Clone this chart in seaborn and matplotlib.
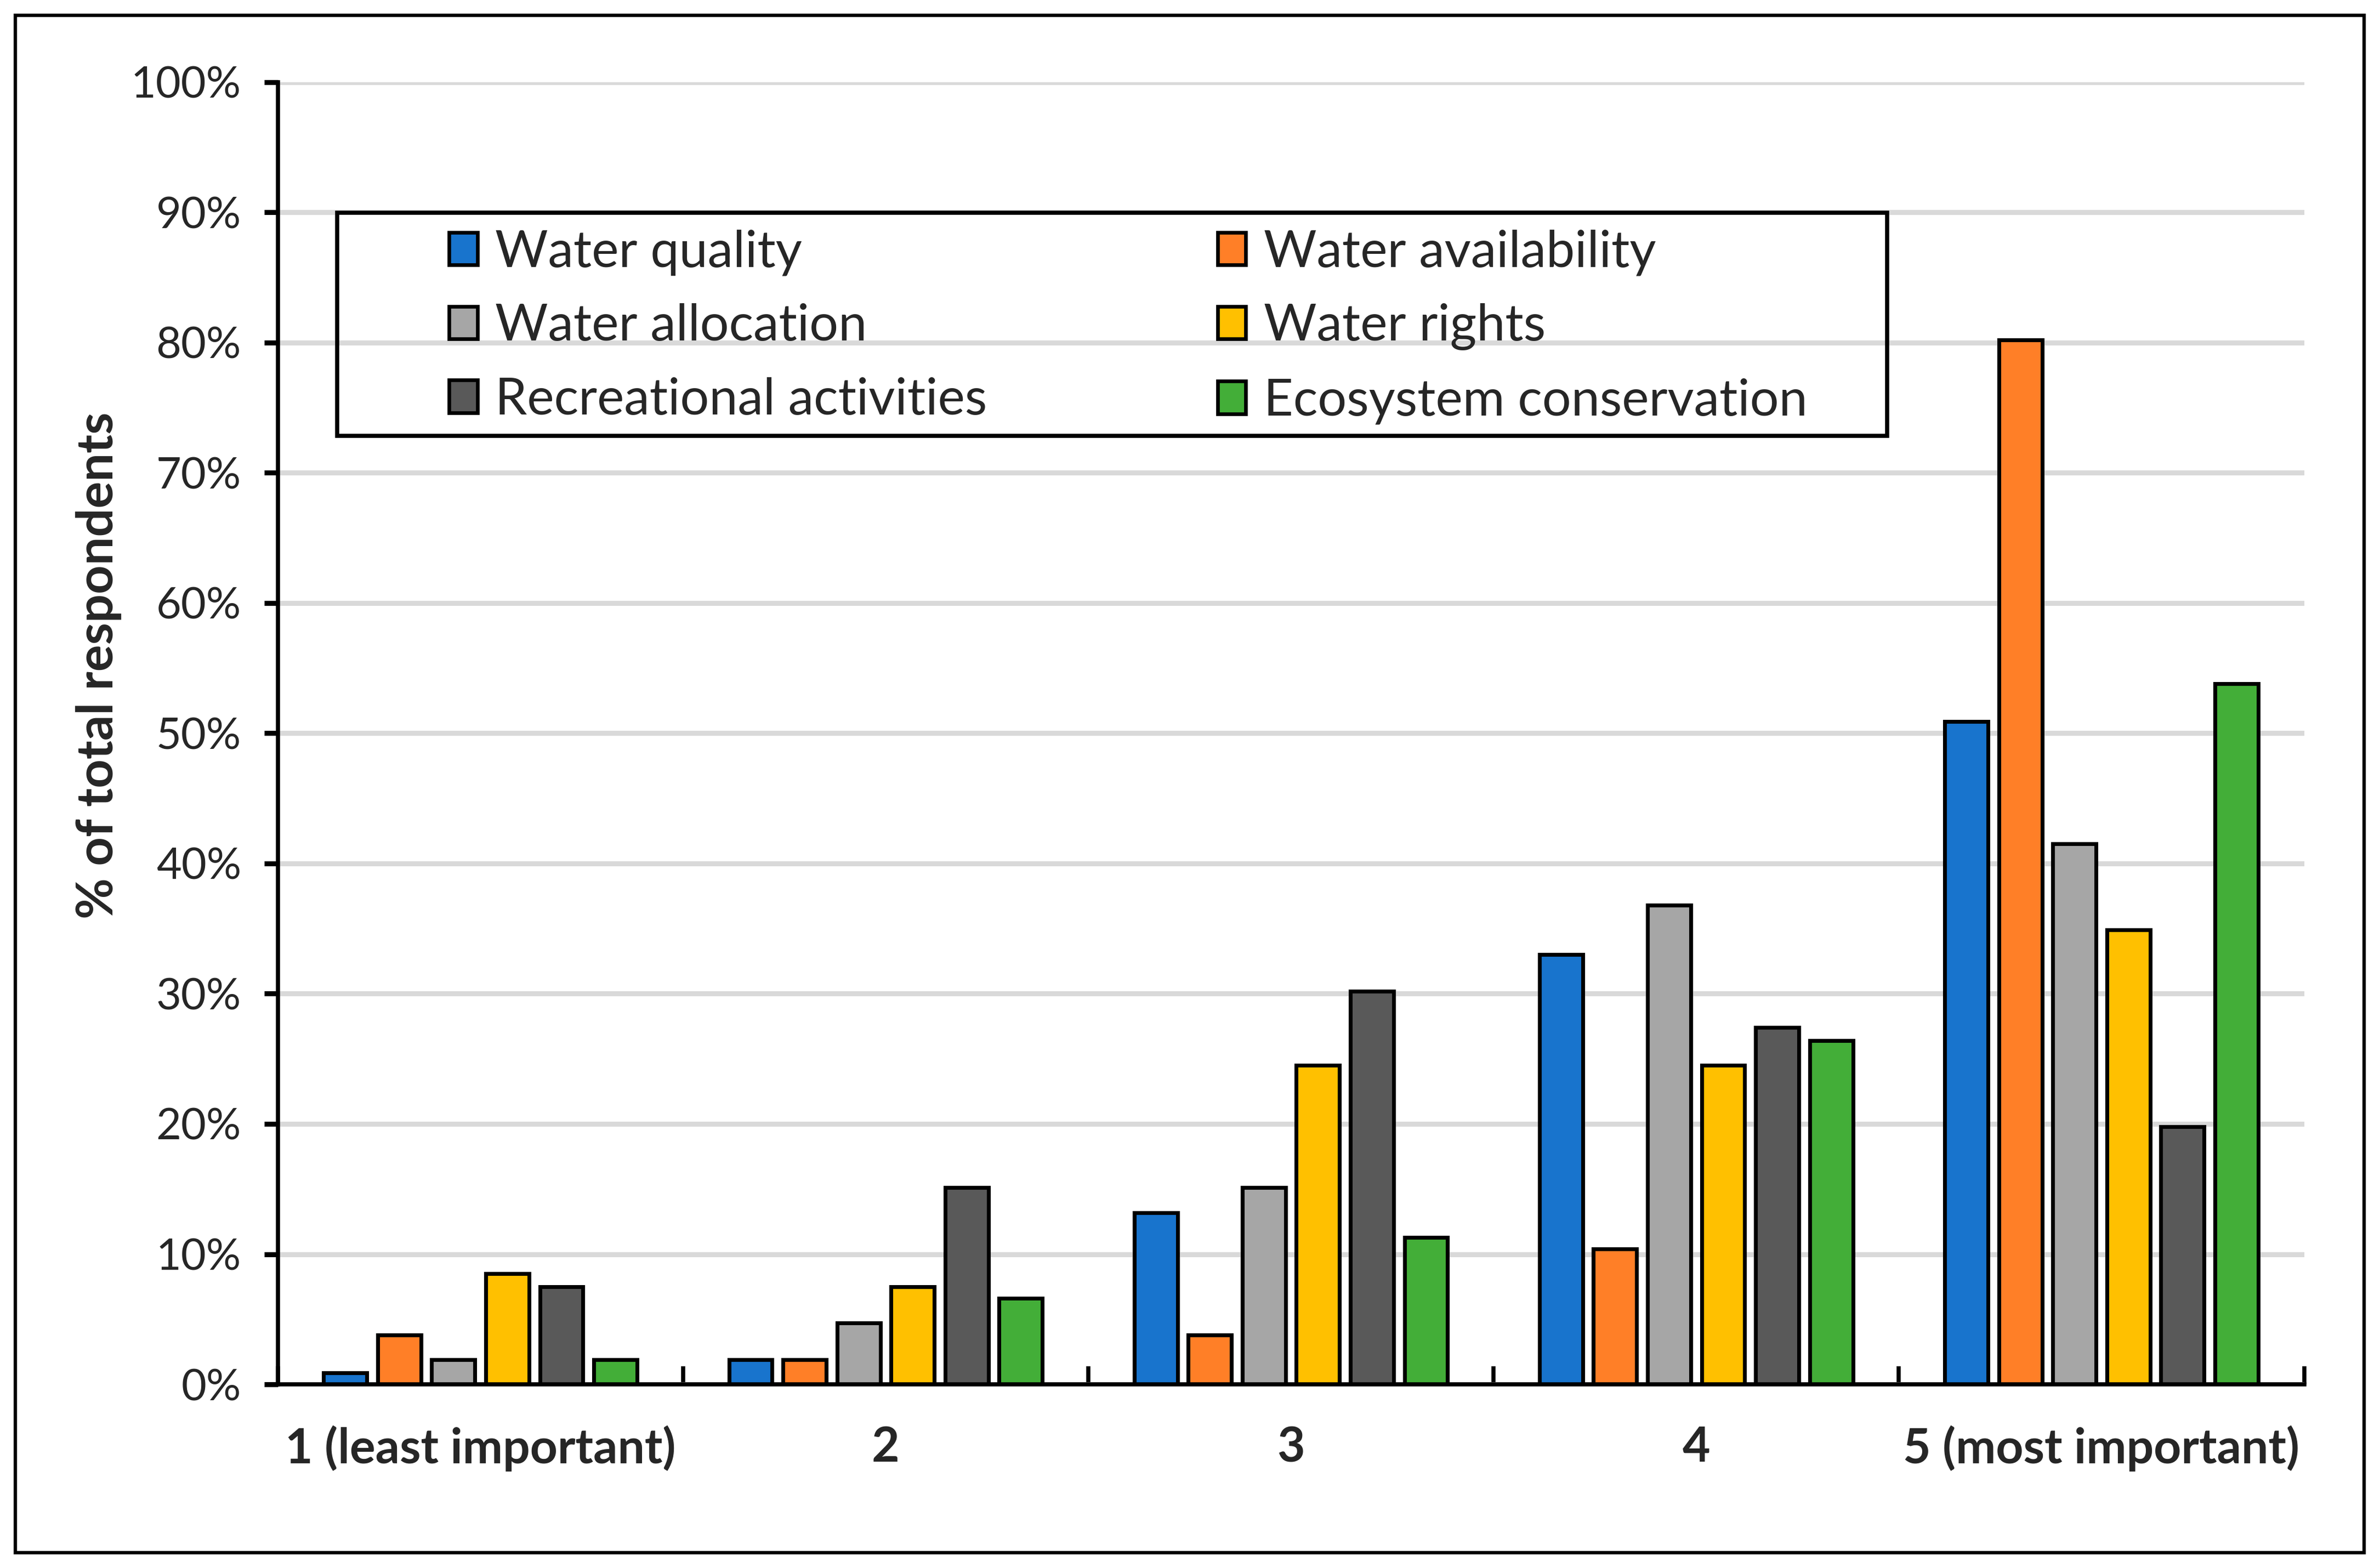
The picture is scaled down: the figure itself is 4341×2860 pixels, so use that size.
import matplotlib
matplotlib.use("Agg")
import matplotlib.pyplot as plt
import seaborn as sns
import pandas as pd
from matplotlib.patches import Rectangle, Patch
from matplotlib.ticker import FuncFormatter, FixedLocator

categories = ["1 (least important)", "2", "3", "4", "5 (most important)"]
series = ["Water quality", "Water availability", "Water allocation",
          "Water rights", "Recreational activities", "Ecosystem conservation"]
colors = ["#1874CD", "#FF7F27", "#A6A6A6", "#FFC000", "#595959", "#43AE38"]

water_quality = [0.9, 1.9, 13.2, 33.0, 50.9]
water_availability = [3.8, 1.9, 3.8, 10.4, 80.2]
water_allocation = [1.9, 4.7, 15.1, 36.8, 41.5]
water_rights = [8.5, 7.5, 24.5, 24.5, 34.9]
recreational = [7.5, 15.1, 30.2, 27.4, 19.8]
ecosystem = [1.9, 6.6, 11.3, 26.4, 53.8]
yticks = [0, 10, 20, 30, 40, 50, 60, 70, 80, 90, 100]

values = [water_quality, water_availability, water_allocation,
          water_rights, recreational, ecosystem]
rows = []
for s, vals in zip(series, values):
    for c, v in zip(categories, vals):
        rows.append({"Rank": c, "Issue": s, "Percent": v})
df = pd.DataFrame(rows)

sns.set_theme(style="white")
plt.rcParams["font.family"] = ["Lato", "DejaVu Sans"]

fig = plt.figure(figsize=(4341 / 300, 2860 / 300), dpi=300)
ax = fig.add_axes([0.1167, 0.1171, 0.9681 - 0.1167, 0.9477 - 0.1171])

sns.barplot(data=df, x="Rank", y="Percent", hue="Issue", order=categories,
            hue_order=series, palette=colors, width=0.8, gap=0.2,
            edgecolor="black", linewidth=1.7, saturation=1, ax=ax, zorder=3)

ax.set_xlim(-0.5, 4.5)
ax.set_ylim(0, 100)
ax.yaxis.set_major_locator(FixedLocator(yticks))
ax.yaxis.set_major_formatter(FuncFormatter(lambda v, p: f"{int(round(v))}%"))
ax.grid(axis="y", color="#D9D9D9", linewidth=2.2, zorder=0)
ax.set_axisbelow(True)

for side in ["top", "right"]:
    ax.spines[side].set_visible(False)
for side in ["left", "bottom"]:
    ax.spines[side].set_color("black")
    ax.spines[side].set_linewidth(1.8)
    ax.spines[side].set_zorder(5)

ax.tick_params(axis="y", direction="out", length=6, width=2.2, color="black",
               labelsize=19, pad=10, left=True)
ax.tick_params(axis="x", which="major", length=0, labelsize=21, pad=18)
ax.set_xticks([-0.5, 0.5, 1.5, 2.5, 3.5, 4.5], minor=True)
ax.tick_params(axis="x", which="minor", direction="in", length=8, width=1.8,
               color="black", bottom=True)
for lab in ax.get_xticklabels():
    lab.set_fontweight("bold")

ax.set_xlabel("")
ax.set_ylabel("% of total respondents", fontsize=22, fontweight="bold")
ax.yaxis.set_label_coords(-0.077, 0.552)

# legend
ax.get_legend().remove()
handles = [Patch(facecolor=c, edgecolor="black", linewidth=1.6) for c in colors]
order = [0, 2, 4, 1, 3, 5]
leg = fig.legend([handles[i] for i in order], [series[i] for i in order],
                 ncol=2, loc="upper left", bbox_to_anchor=(0.178, 0.870),
                 frameon=False, fontsize=22.4, handlelength=0.55, handleheight=0.6,
                 handletextpad=0.35, columnspacing=4.5, labelspacing=0.54,
                 borderpad=0.0)
fig.patches.append(Rectangle((0.1416, 0.722), 0.793 - 0.1416, 0.8645 - 0.722,
                             transform=fig.transFigure, fill=False,
                             edgecolor="black", linewidth=1.8, zorder=10))

# outer border
fig.patches.append(Rectangle((0.0064, 0.0097), 0.987, 0.9806,
                             transform=fig.transFigure, fill=False,
                             edgecolor="black", linewidth=1.5, zorder=10))

fig.savefig("out.png", dpi=300)
